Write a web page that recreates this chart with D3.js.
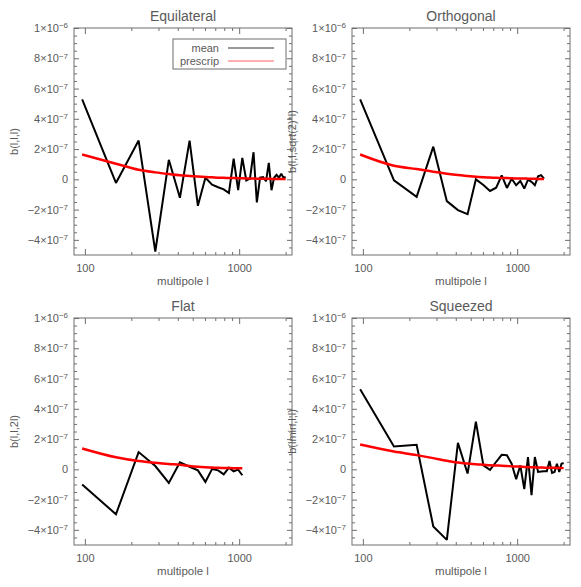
<!DOCTYPE html>
<html>
<head>
<meta charset="utf-8">
<script src="https://cdn.jsdelivr.net/npm/d3@7"></script>
<style>
  html, body { margin: 0; padding: 0; background: #ffffff; }
  svg { display: block; }
</style>
</head>
<body>
<div id="chart"></div>
<script>
// ---------------- data ----------------
const ell = [96,159,223,286,350,413,477,540,604,667,731,794,858,921,985,1048,1112,1175,1239,1302,1366,1429,1493,1556,1620,1683,1747,1810,1874,1937,2001];

// values in units of 1e-7
const equilateralMean = [5.29,-0.24,2.56,-4.77,1.29,-1.22,2.56,-1.75,0.11,-0.35,-0.52,-0.66,-0.9,1.36,-0.72,1.42,-0.07,0.05,1.79,-1.53,0.11,0.15,-0.13,1.09,-0.72,0.1,0.3,0.11,0.37,0.11,0.15];
const equilateralPrescrip = [1.64,1.03,0.63,0.46,0.35,0.27,0.22,0.18,0.15,0.13,0.11,0.10,0.09,0.08,0.07,0.065,0.06,0.055,0.05,0.045,0.04,0.04,0.035,0.035,0.03,0.03,0.03,0.025,0.025,0.02,0.02];

const orthogonalMean = [5.29,-0.07,-1.16,2.16,-1.44,-2.03,-2.3,0.0,-0.37,-0.77,-0.55,0.26,-0.57,0.04,-0.39,-0.11,-0.61,-0.02,-0.17,-0.39,0.2,0.28,0.04];
const orthogonalPrescrip = [1.64,0.9,0.68,0.5,0.37,0.28,0.22,0.17,0.14,0.12,0.1,0.09,0.08,0.07,0.06,0.055,0.05,0.045,0.04,0.035,0.03,0.03,0.03];

const flatMean = [-1.0,-2.97,1.14,0.22,-0.9,0.47,0.17,-0.07,-0.83,0.02,-0.07,-0.33,0.11,-0.13,-0.02,-0.39];
const flatPrescrip = [1.38,0.8,0.55,0.43,0.35,0.3,0.22,0.17,0.14,0.12,0.1,0.09,0.08,0.075,0.07,0.065];

const squeezedMean = [5.29,1.51,1.62,-3.78,-4.66,1.75,-0.28,3.15,0.26,-0.04,0.5,0.96,0.93,0.37,-0.66,0.26,-1.31,0.81,-1.7,0.81,-0.17,-0.15,-0.13,-0.13,0.55,-0.24,-0.17,0.37,-0.17,0.37,0.42];
const squeezedPrescrip = [1.64,1.18,0.94,0.74,0.57,0.45,0.38,0.33,0.3,0.27,0.25,0.24,0.22,0.2,0.19,0.17,0.16,0.15,0.14,0.13,0.12,0.12,0.11,0.11,0.1,0.1,0.1,0.09,0.09,0.09,0.08];

const panelTitles = ["Equilateral","Orthogonal","Flat","Squeezed"];
const yTitles = ["b(l,l,l)","b(l,l,sqrt(2)*l)","b(l,l,2l)","b(lmin,l,l)"];
const xTitle = "multipole l";
const legendLabels = ["mean","prescrip"];

const yMajorTicks = [-4e-7,-2e-7,0,2e-7,4e-7,6e-7,8e-7,1e-6];
const yTickMantissa = ["\u22124","\u22122","0","2","4","6","8","1"];
const yTickExponent = ["\u22127","\u22127","","\u22127","\u22127","\u22127","\u22127","\u22126"];
const yMinorTicks = [-4.5e-7,-3.5e-7,-3e-7,-2.5e-7,-1.5e-7,-1e-7,-0.5e-7,0.5e-7,1e-7,1.5e-7,2.5e-7,3e-7,3.5e-7,4.5e-7,5e-7,5.5e-7,6.5e-7,7e-7,7.5e-7,8.5e-7,9e-7,9.5e-7];
const xMajorTicks = [100,1000];
const xTickLabels = ["100","1000"];
const xMinorTicks = [200,300,400,500,600,700,800,900,2000];
const xDomain = [85,2200];
const yDomain = [-5e-7,1e-6];

// ---------------- layout ----------------
const W = 581, H = 587;
const plotW = 218, plotH = 227;
const panelOrigins = [[74,28],[352,28],[74,318],[352,318]];
const seriesSets = [
  [equilateralMean, equilateralPrescrip],
  [orthogonalMean, orthogonalPrescrip],
  [flatMean, flatPrescrip],
  [squeezedMean, squeezedPrescrip]
];

const textColor = "#5a5a5a";
const axisColor = "#6e6e6e";
const font = "'Liberation Sans', Arial, sans-serif";

const svg = d3.select("#chart").append("svg")
  .attr("width", W).attr("height", H)
  .style("background", "#fff");

const x = d3.scaleLog().domain(xDomain).range([0, plotW]);
const y = d3.scaleLinear().domain(yDomain).range([plotH, 0]);

function styleAxis(g) {
  g.select(".domain").remove();
  g.selectAll(".tick line").attr("stroke", axisColor).attr("stroke-width", 1);
  g.selectAll(".tick text").attr("fill", textColor).attr("font-family", font).attr("font-size", 11);
}

panelOrigins.forEach(([ox, oy], i) => {
  const g = svg.append("g").attr("transform", `translate(${ox},${oy})`);

  // frame
  g.append("rect").attr("x", 0).attr("y", 0).attr("width", plotW).attr("height", plotH)
    .attr("fill", "none").attr("stroke", axisColor).attr("stroke-width", 1);

  // left axis, major with labels
  const left = g.append("g").call(
    d3.axisLeft(y).tickValues(yMajorTicks).tickSizeInner(-5).tickSizeOuter(0).tickPadding(6)
      .tickFormat(() => ""));
  styleAxis(left);
  left.selectAll(".tick text").each(function(d, k) {
    const t = d3.select(this);
    t.text(null);
    t.append("tspan").text(yTickMantissa[k] === "0" ? "0" : yTickMantissa[k] + "\u00d710");
    if (yTickExponent[k]) {
      t.append("tspan").attr("dy", "-0.45em").attr("font-size", 8).text(yTickExponent[k]);
    }
  });
  g.append("g").call(d3.axisLeft(y).tickValues(yMinorTicks).tickSizeInner(-3).tickSizeOuter(0).tickFormat(""))
    .call(styleAxis);

  // right axis ticks
  g.append("g").attr("transform", `translate(${plotW},0)`)
    .call(d3.axisRight(y).tickValues(yMajorTicks).tickSizeInner(-5).tickSizeOuter(0).tickFormat(""))
    .call(styleAxis);
  g.append("g").attr("transform", `translate(${plotW},0)`)
    .call(d3.axisRight(y).tickValues(yMinorTicks).tickSizeInner(-3).tickSizeOuter(0).tickFormat(""))
    .call(styleAxis);

  // bottom axis
  const bottom = g.append("g").attr("transform", `translate(0,${plotH})`)
    .call(d3.axisBottom(x).tickValues(xMajorTicks).tickSizeInner(-6).tickSizeOuter(0).tickPadding(9)
      .tickFormat((d, k) => xTickLabels[k]));
  styleAxis(bottom);
  g.append("g").attr("transform", `translate(0,${plotH})`)
    .call(d3.axisBottom(x).tickValues(xMinorTicks).tickSizeInner(-3).tickSizeOuter(0).tickFormat(""))
    .call(styleAxis);

  // top axis
  g.append("g")
    .call(d3.axisTop(x).tickValues(xMajorTicks).tickSizeInner(-6).tickSizeOuter(0).tickFormat(""))
    .call(styleAxis);
  g.append("g")
    .call(d3.axisTop(x).tickValues(xMinorTicks).tickSizeInner(-3).tickSizeOuter(0).tickFormat(""))
    .call(styleAxis);

  // titles
  g.append("text").attr("x", plotW / 2).attr("y", -7)
    .attr("text-anchor", "middle").attr("font-family", font).attr("font-size", 14)
    .attr("fill", textColor).text(panelTitles[i]);
  g.append("text").attr("x", plotW / 2).attr("y", plotH + 30)
    .attr("text-anchor", "middle").attr("font-family", font).attr("font-size", 11.5)
    .attr("fill", textColor).text(xTitle);
  g.append("text")
    .attr("transform", `translate(-56,${plotH / 2}) rotate(-90)`)
    .attr("text-anchor", "middle").attr("font-family", font).attr("font-size", 11)
    .attr("fill", textColor).text(yTitles[i]);

  // data lines
  const [meanVals, presVals] = seriesSets[i];
  const line = d3.line().x(d => x(d[0])).y(d => y(d[1] * 1e-7));
  const meanPts = meanVals.map((v, k) => [ell[k], v]);
  const presPts = presVals.map((v, k) => [ell[k], v]);
  g.append("path").datum(meanPts).attr("d", line)
    .attr("fill", "none").attr("stroke", "#000").attr("stroke-width", 2)
    .attr("stroke-linejoin", "miter").attr("stroke-miterlimit", 2);
  g.append("path").datum(presPts).attr("d", line.curve(d3.curveMonotoneX))
    .attr("fill", "none").attr("stroke", "#ff0000").attr("stroke-width", 2.5);

  // legend in first panel
  if (i === 0) {
    const lg = g.append("g").attr("transform", `translate(${173 - ox},${39 - oy})`);
    lg.append("rect").attr("x", 0).attr("y", 0).attr("width", 113).attr("height", 30)
      .attr("fill", "#fff").attr("stroke", axisColor).attr("stroke-width", 1);
    const colors = ["#333", "#ff6060"];
    legendLabels.forEach((lab, k) => {
      const yy = 9 + k * 13;
      lg.append("text").attr("x", 46).attr("y", yy).attr("dy", "0.35em")
        .attr("text-anchor", "end").attr("font-family", font).attr("font-size", 11)
        .attr("fill", textColor).text(lab);
      lg.append("line").attr("x1", 55).attr("x2", 101).attr("y1", yy).attr("y2", yy)
        .attr("stroke", colors[k]).attr("stroke-width", 1);
    });
  }
});
</script>
</body>
</html>
